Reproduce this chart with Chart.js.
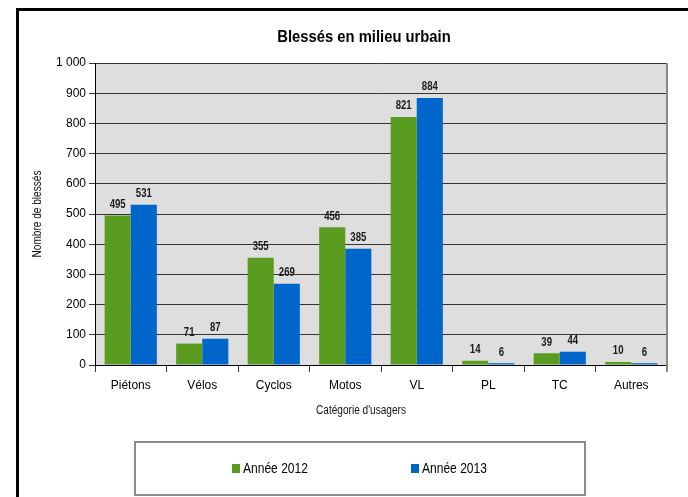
<!DOCTYPE html>
<html>
<head>
<meta charset="utf-8">
<script src="https://cdn.jsdelivr.net/npm/chart.js@4/dist/chart.umd.min.js"></script>
<style>
    html, body { margin: 0; padding: 0; background: #fff; }
</style>
</head>
<body>
<canvas id="chart" width="688" height="497"></canvas>
<script>
// Data
const categories = ['Piétons', 'Vélos', 'Cyclos', 'Motos', 'VL', 'PL', 'TC', 'Autres'];
const values2012 = [495, 71, 355, 456, 821, 14, 39, 10];
const values2013 = [531, 87, 269, 385, 884, 6, 44, 6];
const seriesLabels = ['Année 2012', 'Année 2013'];
const yTicks = [0, 100, 200, 300, 400, 500, 600, 700, 800, 900, 1000];
const chartTitle = 'Blessés en milieu urbain';
const xTitle = "Catégorie d'usagers";
const yTitle = 'Nombre de blessés';

const FONT = "'Liberation Sans', Arial, sans-serif";
const GREEN = '#599c1f';
const BLUE = '#0066cc';

// thousands with a plain space: 1 000
function formatThousands(v) {
    return String(v).replace(/\B(?=(\d{3})+(?!\d))/g, ' ');
}

// draw text squeezed horizontally, like the narrow font of the original
function narrowText(ctx, text, x, y, squeeze) {
    ctx.save();
    ctx.translate(x, y);
    ctx.scale(squeeze, 1);
    ctx.fillText(text, 0, 0);
    ctx.restore();
}

// Plot background, frame, title, axis titles and legend box
const decorPlugin = {
    id: 'decor',
    beforeDraw(chart) {
        const ctx = chart.ctx;
        const a = chart.chartArea;
        ctx.save();
        ctx.fillStyle = '#fff';
        ctx.fillRect(0, 0, chart.width, chart.height);
        ctx.fillStyle = '#dedede';
        ctx.fillRect(a.left, a.top, a.right - a.left, a.bottom - a.top);
        ctx.restore();
    },
    afterDraw(chart) {
        const ctx = chart.ctx;
        const a = chart.chartArea;
        ctx.save();

        // right edge of the plot
        ctx.strokeStyle = '#8a8a8a';
        ctx.lineWidth = 2;
        ctx.beginPath();
        ctx.moveTo(a.right, a.top);
        ctx.lineTo(a.right, a.bottom + 7);
        ctx.stroke();

        // outer frame (left and top)
        ctx.fillStyle = '#000';
        ctx.fillRect(16, 8, 3, chart.height - 8);
        ctx.fillRect(16, 8, chart.width - 16, 3);

        // title
        ctx.fillStyle = '#000';
        ctx.textAlign = 'center';
        ctx.textBaseline = 'middle';
        ctx.font = 'bold 17px ' + FONT;
        narrowText(ctx, chartTitle, 364, 37, 0.87);

        // axis titles
        ctx.fillStyle = '#111';
        ctx.font = '12px ' + FONT;
        narrowText(ctx, xTitle, 361, 411, 0.84);
        ctx.save();
        ctx.translate(38, 214);
        ctx.rotate(-Math.PI / 2);
        narrowText(ctx, yTitle, 0, 0, 0.84);
        ctx.restore();

        // legend box
        ctx.strokeStyle = '#8c8c8c';
        ctx.lineWidth = 2;
        ctx.strokeRect(135, 442, 450, 53);

        const items = [
            { x: 232, label: chart.data.datasets[0].label, color: chart.data.datasets[0].backgroundColor },
            { x: 411, label: chart.data.datasets[1].label, color: chart.data.datasets[1].backgroundColor }
        ];
        ctx.font = '14px ' + FONT;
        ctx.textAlign = 'left';
        items.forEach(it => {
            ctx.fillStyle = it.color;
            ctx.fillRect(it.x, 464, 8, 9);
            ctx.fillStyle = '#000';
            narrowText(ctx, it.label, it.x + 11, 469, 0.86);
        });
        ctx.restore();
    }
};

// Value labels above each bar
const valueLabelPlugin = {
    id: 'valueLabels',
    afterDatasetsDraw(chart) {
        const ctx = chart.ctx;
        ctx.save();
        ctx.font = 'bold 12px ' + FONT;
        ctx.fillStyle = '#1a1a1a';
        ctx.textAlign = 'center';
        ctx.textBaseline = 'bottom';
        chart.data.datasets.forEach((ds, i) => {
            const meta = chart.getDatasetMeta(i);
            meta.data.forEach((bar, j) => {
                narrowText(ctx, ds.data[j], bar.x, bar.y - 5, 0.8);
            });
        });
        ctx.restore();
    }
};

const ctx = document.getElementById('chart').getContext('2d');

new Chart(ctx, {
    type: 'bar',
    data: {
        labels: categories,
        datasets: [
            {
                label: seriesLabels[0],
                data: values2012,
                backgroundColor: GREEN,
                borderWidth: 0,
                barPercentage: 1,
                categoryPercentage: 0.73
            },
            {
                label: seriesLabels[1],
                data: values2013,
                backgroundColor: BLUE,
                borderWidth: 0,
                barPercentage: 1,
                categoryPercentage: 0.73
            }
        ]
    },
    options: {
        responsive: false,
        animation: false,
        layout: {
            padding: { left: 0, right: 21, top: 63, bottom: 0 }
        },
        plugins: {
            legend: { display: false },
            title: { display: false },
            tooltip: { enabled: false }
        },
        scales: {
            x: {
                afterFit: function(scale) { scale.height = 132; },
                grid: {
                    display: true,
                    drawOnChartArea: false,
                    drawTicks: true,
                    tickLength: 7,
                    color: '#333',
                    offset: true
                },
                border: { display: true, color: '#000', width: 1 },
                ticks: {
                    color: '#000',
                    padding: 6,
                    font: { family: FONT, size: 12 }
                }
            },
            y: {
                min: 0,
                max: 1000,
                afterFit: function(scale) { scale.width = 95; },
                afterBuildTicks: function(scale) {
                    scale.ticks = yTicks.map(v => ({ value: v }));
                },
                grid: {
                    color: '#333',
                    lineWidth: 1,
                    drawTicks: true,
                    tickLength: 6,
                    tickColor: '#333'
                },
                border: { display: true, color: '#000', width: 1 },
                ticks: {
                    color: '#000',
                    padding: 3,
                    font: { family: FONT, size: 12 },
                    callback: function(value) {
                        return formatThousands(value);
                    }
                }
            }
        }
    },
    plugins: [decorPlugin, valueLabelPlugin]
});
</script>
</body>
</html>
